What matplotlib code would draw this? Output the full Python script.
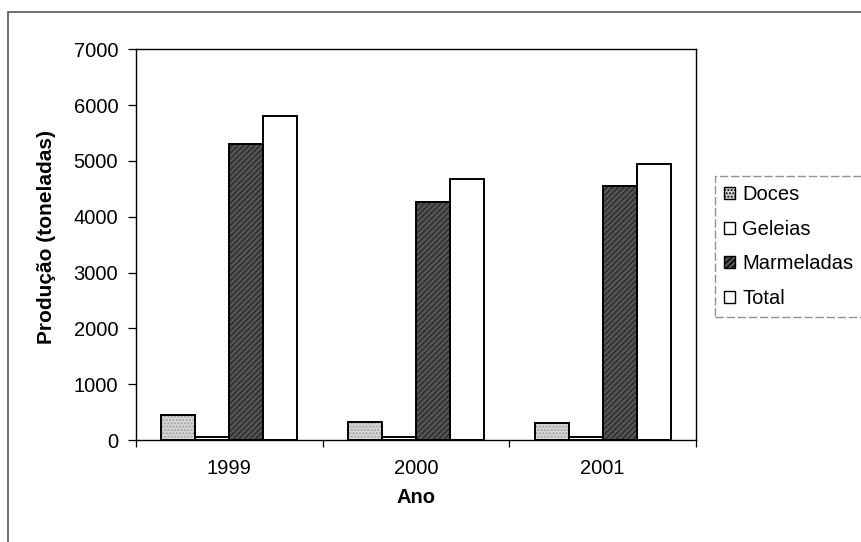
import matplotlib
matplotlib.use("Agg")
import matplotlib.pyplot as plt
from matplotlib.patches import Patch, Rectangle
import numpy as np

plt.rcParams['font.family'] = ['Liberation Sans', 'DejaVu Sans']

anos = ['1999', '2000', '2001']
series = ['Doces', 'Geleias', 'Marmeladas', 'Total']
doces = [450, 320, 310]
geleias = [55, 50, 45]
marmeladas = [5310, 4270, 4550]
total = [5810, 4680, 4940]
valores = [doces, geleias, marmeladas, total]

estilos = {
    'Doces': dict(facecolor='#d6d6d6', hatch='.....', hcolor='#a0a0a0'),
    'Geleias': dict(facecolor='white', hatch=None, hcolor='white'),
    'Marmeladas': dict(facecolor='#555555', hatch='//////', hcolor='#2a2a2a'),
    'Total': dict(facecolor='white', hatch=None, hcolor='white'),
}

W, H = 862, 542
fig = plt.figure(figsize=(W / 100, H / 100), dpi=100)
ax = fig.add_axes([136 / W, 1 - 440 / H, 560 / W, 390.6 / H])

x = np.arange(len(anos))
largura = 1 / 5.5
for i, (nome, vals) in enumerate(zip(series, valores)):
    pos = x + (i - 1.5) * largura
    st = estilos[nome]
    ax.bar(pos, vals, width=largura, color=st['facecolor'], hatch=st['hatch'],
           edgecolor=st['hcolor'], linewidth=0, zorder=2)
    ax.bar(pos, vals, width=largura, fill=False, edgecolor='black',
           linewidth=1.4, zorder=3)

ax.set_xlim(-0.5, 2.5)
ax.set_ylim(0, 7000)
ax.set_yticks(np.arange(0, 7001, 1000))
ax.tick_params(axis='y', direction='out', length=5.8, width=0.9, pad=7,
               labelsize=14.5)

ax.set_xticks([-0.5, 0.5, 1.5, 2.5])
ax.set_xticklabels([])
ax.tick_params(axis='x', which='major', direction='out', length=5, width=0.9)
ax.set_xticks(x, minor=True)
ax.set_xticklabels(anos, minor=True)
ax.tick_params(axis='x', which='minor', length=0, pad=14, labelsize=14.5)

for s in ax.spines.values():
    s.set_color('black')
    s.set_linewidth(1.0)

ax.set_ylabel('Produção (toneladas)', fontsize=15, fontweight='bold')
ax.yaxis.set_label_coords(-0.143, 0.52)
ax.set_xlabel('Ano', fontsize=14.5, fontweight='bold')
ax.xaxis.set_label_coords(0.5, -0.123)

handles = [Patch(facecolor=estilos[n]['facecolor'], edgecolor='black',
                 hatch=estilos[n]['hatch'], linewidth=1.0) for n in series]
leg = fig.legend(handles, series, loc='upper left',
                 bbox_to_anchor=(715 / W, 1 - 176 / H),
                 fontsize=14.5, frameon=True, fancybox=False,
                 handlelength=0.55, handleheight=0.55, handletextpad=0.35,
                 labelspacing=0.78, borderpad=0.45, borderaxespad=0)
leg.get_frame().set_edgecolor('#777777')
leg.get_frame().set_linewidth(1.0)
leg.get_frame().set_linestyle((0, (6, 2)))

# outer chart frame (left and top edges)
fig.add_artist(Rectangle((8 / W, -0.05), 1.2, 1 - 12 / H + 0.05,
                         transform=fig.transFigure, fill=False,
                         edgecolor='#555555', linewidth=1.2))

fig.savefig('out.png', dpi=100)
